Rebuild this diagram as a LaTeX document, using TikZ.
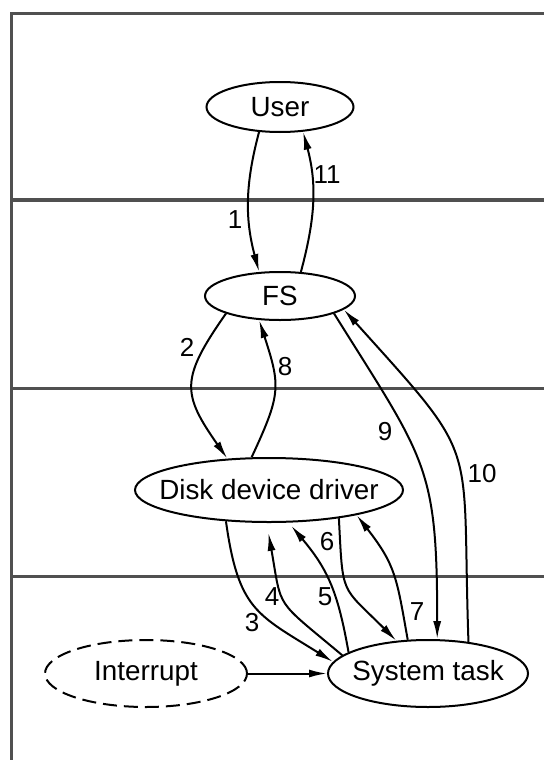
\documentclass[tikz,border=0pt]{standalone}
\usepackage{fontspec}
\setmainfont{Liberation Sans}
\usetikzlibrary{shapes.geometric, arrows.meta}
\definecolor{crule}{RGB}{80,80,80}

\begin{document}
\begin{tikzpicture}[x=0.5pt, y=0.5pt, >={Latex[length=9pt,width=4pt]},
    proc/.style={ellipse, draw, line width=1pt, inner sep=0pt,
      label={[font=\fontsize{13.9}{16}\selectfont]center:#1}},
    num/.style={font=\fontsize{13}{15}\selectfont, inner sep=0pt},
    flow/.style={->, line width=1pt},
    layer/.style={line width=1.6pt, crule}]

  \useasboundingbox (0,0) rectangle (544,-760);

  % frame and layers
  \draw[layer] (11.5,-760) -- (11.5,-13.5) -- (544,-13.5);
  \foreach \y in {200,388.5,576.5} \draw[layer] (11.5,-\y) -- (544,-\y);

  \node[proc=User, minimum width=73.5pt, minimum height=25pt] (user) at (280,-107) {};
  \node[proc=FS, minimum width=75pt, minimum height=24pt] (fs) at (280,-296) {};
  \node[proc=Disk device driver, minimum width=134pt, minimum height=32pt] (ddd) at (269,-490) {};
  \node[proc=Interrupt, dash pattern=on 7pt off 3.5pt, minimum width=101pt, minimum height=33.5pt] (intr) at (146,-673.5) {};
  \node[proc=System task, minimum width=100pt, minimum height=33.5pt] (sys) at (428,-673.5) {};

  % messages
  \draw[flow] (user.-130) to[out=-105, in=105] (fs.131);
  \draw[flow] (fs.-162) to[out=-125, in=125, looseness=1.4] (ddd.143);
  \draw[flow] (ddd.-144) to[out=-82, in=148, looseness=1.3] (sys.173);
  \draw[flow, shorten >=5pt] (sys.168) to[out=140, in=-80, looseness=1.5] (ddd.-94);
  \draw[flow, shorten >=2pt] (sys.165) to[out=100, in=-50, looseness=1.1] (ddd.-59);
  \draw[flow] (ddd.-22) to[out=-87, in=135, looseness=1.5] (sys.134);
  \draw[flow] (sys.121) to[out=100, in=-52, looseness=1.2] (ddd.-16.5);
  \draw[flow] (ddd.118) to[out=65, in=-72, looseness=1.3] (fs.-131);
  \draw[flow] (fs.-18) to[out=-58, in=90, looseness=1.3] (sys.75);
  \draw[flow] (sys.38) to[out=92, in=-48, looseness=1.5] (fs.-12);
  \draw[flow] (fs.49) to[out=75, in=-75] (user.-47);
  \draw[flow] (intr) -- (sys);

  \node[num] (n1) at (235,-220) {1};
  \node[num] (n2) at (187,-347) {2};
  \node[num] (n3) at (252,-623) {3};
  \node[num] (n4) at (272,-597) {4};
  \node[num] (n5) at (325,-597) {5};
  \node[num] (n6) at (327,-542) {6};
  \node[num] (n7) at (417,-612) {7};
  \node[num] (n8) at (285,-367) {8};
  \node[num] (n9) at (385,-432) {9};
  \node[num] (n10) at (482,-474) {10};
  \node[num] (n11) at (327,-175) {11};
\end{tikzpicture}
\end{document}
